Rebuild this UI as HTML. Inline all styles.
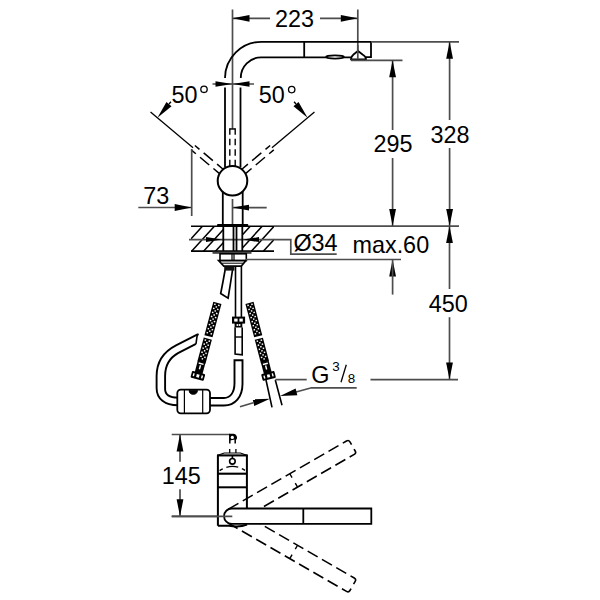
<!DOCTYPE html>
<html><head><meta charset="utf-8"><style>
html,body{margin:0;padding:0;background:#fff;}
svg{display:block;}
text{font-family:"Liberation Sans", sans-serif;fill:#000;stroke:none;}
</style></head><body>
<svg width="600" height="600" viewBox="0 0 600 600" fill="none" stroke="#000">
<rect width="600" height="600" fill="#fff" stroke="none"/>
<line x1="232.5" y1="9.5" x2="232.5" y2="129" stroke-width="1.7" stroke="#4d4d4d"/>
<line x1="357.8" y1="9.5" x2="357.8" y2="59" stroke-width="1.7" stroke="#4d4d4d"/>
<line x1="232.5" y1="18.3" x2="270" y2="18.3" stroke-width="1.7" stroke="#4d4d4d"/>
<polygon points="232.5,18.3 249.5,14.9 249.5,21.7" fill="#000" stroke="none"/>
<line x1="320" y1="18.3" x2="357.8" y2="18.3" stroke-width="1.7" stroke="#4d4d4d"/>
<polygon points="357.8,18.3 340.8,21.7 340.8,14.9" fill="#000" stroke="none"/>
<text x="294.5" y="26.5" font-size="23.4" text-anchor="middle">223</text>
<path d="M225,78 A36.5,36.5 0 0 1 261.5,41.8 L371,41.8 L371,57.2 L366,57.2" stroke-width="1.8"/>
<path d="M240.8,78 A20.5,20.5 0 0 1 261.3,57.3 L351,57.3" stroke-width="1.8"/>
<line x1="304.2" y1="41.8" x2="304.2" y2="57.3" stroke-width="1.8"/>
<ellipse cx="335" cy="57" rx="9" ry="1.6" stroke-width="1.6" fill="#fff"/>
<path d="M351,59.3 Q351,56.5 353.5,54.5 L358,51 L362.5,54.5 Q366,56.5 366,59.3 Z" stroke-width="1.8" fill="#fff"/>
<line x1="351" y1="60.3" x2="402.5" y2="60.3" stroke-width="1.7" stroke="#4d4d4d"/>
<line x1="357.8" y1="45" x2="357.8" y2="59" stroke-width="1.7" stroke="#4d4d4d"/>
<line x1="371" y1="41.8" x2="459" y2="41.8" stroke-width="1.7" stroke="#4d4d4d"/>
<line x1="225" y1="87.5" x2="225" y2="167" stroke-width="1.8"/>
<line x1="240.5" y1="87.5" x2="240.5" y2="167" stroke-width="1.8"/>
<line x1="212.5" y1="84" x2="254" y2="84" stroke-width="1.7" stroke="#4d4d4d"/>
<polygon points="232.5,84 215.5,86.8 215.5,81.2" fill="#000" stroke="none"/>
<polygon points="232.5,84 249.5,81.2 249.5,86.8" fill="#000" stroke="none"/>
<path d="M229.8,129 L235.2,129" stroke-width="1.4"/>
<path d="M229.8,128.3 L229.8,166 M235.2,128.3 L235.2,166" stroke-width="1.4" stroke-dasharray="6.5,4"/>
<line x1="193.05" y1="147.7" x2="150.53" y2="112.02" stroke-width="1.3"/>
<line x1="191.22" y1="149.88" x2="219.18" y2="173.34" stroke-width="1.5" stroke-dasharray="6,5.5,12,5.5,12"/>
<line x1="194.88" y1="145.51" x2="222.84" y2="168.97" stroke-width="1.5" stroke-dasharray="6,5.5,12,5.5,12"/>
<polygon points="157.43,117.81 166.47,101.9 171.53,106.14" fill="#000" stroke="none"/>
<line x1="169" y1="104.02" x2="170.93" y2="101.72" stroke-width="1.3"/>
<line x1="271.95" y1="147.7" x2="314.47" y2="112.02" stroke-width="1.3"/>
<line x1="270.12" y1="145.51" x2="242.16" y2="168.97" stroke-width="1.5" stroke-dasharray="6,5.5,12,5.5,12"/>
<line x1="273.78" y1="149.88" x2="245.82" y2="173.34" stroke-width="1.5" stroke-dasharray="6,5.5,12,5.5,12"/>
<polygon points="307.57,117.81 293.47,106.14 298.53,101.9" fill="#000" stroke="none"/>
<line x1="296" y1="104.02" x2="294.07" y2="101.72" stroke-width="1.3"/>
<circle cx="232.5" cy="180.8" r="14.8" stroke-width="2" fill="#fff"/>
<text x="184.4" y="102.8" font-size="23.4" text-anchor="middle">50</text>
<circle cx="204" cy="89.3" r="3.2" stroke-width="1.3"/>
<text x="271.85" y="102.8" font-size="23.4" text-anchor="middle">50</text>
<circle cx="291.7" cy="89.6" r="3.2" stroke-width="1.3"/>
<line x1="191.7" y1="149" x2="191.7" y2="216" stroke-width="1.7" stroke="#4d4d4d"/>
<line x1="138.3" y1="207.5" x2="191.7" y2="207.5" stroke-width="1.7" stroke="#4d4d4d"/>
<polygon points="191.7,207.5 174.7,210.9 174.7,204.1" fill="#000" stroke="none"/>
<line x1="266.7" y1="207.6" x2="232.5" y2="207.6" stroke-width="1.7" stroke="#4d4d4d"/>
<polygon points="232.5,207.6 249,204.7 249,210.5" fill="#000" stroke="none"/>
<text x="156.15" y="204.2" font-size="23.4" text-anchor="middle">73</text>
<line x1="222.8" y1="192" x2="222.8" y2="226" stroke-width="1.8"/>
<line x1="242.7" y1="192" x2="242.7" y2="226" stroke-width="1.8"/>
<line x1="232.5" y1="199" x2="232.5" y2="226" stroke-width="1.7" stroke="#4d4d4d"/>
<clipPath id="hc"><rect x="191" y="226" width="32.3" height="25.2"/><rect x="242.8" y="226" width="31.2" height="25.2"/></clipPath>
<path d="M143.8,251.3 L166.6,226.2 M155.75,251.3 L178.55,226.2 M167.7,251.3 L190.5,226.2 M179.65,251.3 L202.45,226.2 M191.6,251.3 L214.4,226.2 M203.55,251.3 L226.35,226.2 M215.5,251.3 L238.3,226.2 M227.45,251.3 L250.25,226.2 M239.4,251.3 L262.2,226.2 M251.35,251.3 L274.15,226.2 M263.3,251.3 L286.1,226.2 M275.25,251.3 L298.05,226.2 M287.2,251.3 L310,226.2" stroke-width="1.5" clip-path="url(#hc)"/>
<line x1="191" y1="226.2" x2="274" y2="226.2" stroke-width="1.6"/>
<line x1="274" y1="226.2" x2="459" y2="226.2" stroke-width="1.7" stroke="#4d4d4d"/>
<line x1="191" y1="251.2" x2="274" y2="251.2" stroke-width="1.8"/>
<path d="M189,239.6 L290.8,239.6 L290.8,254.2 L336.7,254.2" stroke-width="1.7" stroke="#4d4d4d"/>
<line x1="223.3" y1="226" x2="223.3" y2="251.2" stroke-width="1.8"/>
<line x1="242.3" y1="226" x2="242.3" y2="251.2" stroke-width="1.8"/>
<line x1="233.5" y1="226" x2="233.5" y2="251.2" stroke-width="1.8"/>
<line x1="236.5" y1="226" x2="236.5" y2="251.2" stroke-width="1.8"/>
<rect x="217" y="223.9" width="31.3" height="2.3" rx="1" fill="#000" stroke="none"/>
<polygon points="222,239.6 206,242.1 206,237.1" fill="#000" stroke="none"/>
<polygon points="243,239.6 259,237.1 259,242.1" fill="#000" stroke="none"/>
<text x="315.5" y="251.3" font-size="23.4" text-anchor="middle">Ø34</text>
<text x="390.8" y="253" font-size="23.4" text-anchor="middle">max.60</text>
<rect x="212.5" y="251.6" width="39" height="2.2" fill="#444" stroke="none"/>
<rect x="220" y="253.8" width="26.3" height="6.8" stroke-width="1.6" fill="#fff"/>
<line x1="232" y1="253.8" x2="232" y2="260.6" stroke-width="1.2"/>
<line x1="234" y1="253.8" x2="234" y2="260.6" stroke-width="1.2"/>
<path d="M218.6,260.6 L246,260.6 L241.3,266.1 L223.8,266.1 Z" stroke-width="1.6" fill="#fff"/>
<line x1="221.5" y1="263.2" x2="243.5" y2="263.2" stroke-width="1.0"/>
<line x1="246" y1="259.5" x2="401" y2="259.5" stroke-width="1.7" stroke="#4d4d4d"/>
<path d="M225.1,270 Q222.8,283 220.7,293.5 L228.1,298.2 Q230.6,283 232.5,270" stroke-width="1.7" fill="#fff"/><rect x="224.2" y="266.4" width="10.2" height="4.2" fill="#111" stroke="none"/>
<line x1="235.5" y1="266" x2="235.5" y2="317.4" stroke-width="1.6"/>
<line x1="241.4" y1="266" x2="241.4" y2="317.4" stroke-width="1.6"/>
<rect x="232.8" y="317.4" width="11.5" height="5.4" stroke-width="1.6" fill="#000"/><rect x="234.2" y="318.6" width="3.4" height="3" fill="#fff" stroke="none"/><rect x="239.4" y="318.6" width="3.4" height="3" fill="#fff" stroke="none"/>
<rect x="235.3" y="322.8" width="6.3" height="4.6" stroke-width="1.4" fill="#000"/><rect x="236.6" y="324.1" width="1.6" height="1.8" fill="#fff" stroke="none"/><rect x="238.8" y="324.1" width="1.6" height="1.8" fill="#fff" stroke="none"/>
<path d="M235.1,327.4 L235.1,354 L242.2,354.9 L242.2,327.4" stroke-width="1.6" fill="#fff"/>
<line x1="235.1" y1="337" x2="242.2" y2="337" stroke-width="1.4"/>
<g transform="translate(217.4,302.9) rotate(15)" stroke="none"><rect x="-4.2" y="0" width="8.4" height="34.5" fill="#000"/><rect x="-2.8" y="1.3" width="1.5" height="1.45" fill="#fff"/><rect x="1.3" y="1.3" width="1.5" height="1.45" fill="#fff"/><rect x="-0.75" y="3.4" width="1.5" height="1.45" fill="#fff"/><rect x="-2.8" y="5.5" width="1.5" height="1.45" fill="#fff"/><rect x="1.3" y="5.5" width="1.5" height="1.45" fill="#fff"/><rect x="-0.75" y="7.6" width="1.5" height="1.45" fill="#fff"/><rect x="-2.8" y="9.7" width="1.5" height="1.45" fill="#fff"/><rect x="1.3" y="9.7" width="1.5" height="1.45" fill="#fff"/><rect x="-0.75" y="11.8" width="1.5" height="1.45" fill="#fff"/><rect x="-2.8" y="13.9" width="1.5" height="1.45" fill="#fff"/><rect x="1.3" y="13.9" width="1.5" height="1.45" fill="#fff"/><rect x="-0.75" y="16" width="1.5" height="1.45" fill="#fff"/><rect x="-2.8" y="18.1" width="1.5" height="1.45" fill="#fff"/><rect x="1.3" y="18.1" width="1.5" height="1.45" fill="#fff"/><rect x="-0.75" y="20.2" width="1.5" height="1.45" fill="#fff"/><rect x="-2.8" y="22.3" width="1.5" height="1.45" fill="#fff"/><rect x="1.3" y="22.3" width="1.5" height="1.45" fill="#fff"/><rect x="-0.75" y="24.4" width="1.5" height="1.45" fill="#fff"/><rect x="-2.8" y="26.5" width="1.5" height="1.45" fill="#fff"/><rect x="1.3" y="26.5" width="1.5" height="1.45" fill="#fff"/><rect x="-0.75" y="28.6" width="1.5" height="1.45" fill="#fff"/><rect x="-2.8" y="30.7" width="1.5" height="1.45" fill="#fff"/><rect x="1.3" y="30.7" width="1.5" height="1.45" fill="#fff"/><rect x="-4.2" y="37" width="8.4" height="24.5" fill="#000"/><rect x="-2.8" y="38.3" width="1.5" height="1.45" fill="#fff"/><rect x="1.3" y="38.3" width="1.5" height="1.45" fill="#fff"/><rect x="-0.75" y="40.4" width="1.5" height="1.45" fill="#fff"/><rect x="-2.8" y="42.5" width="1.5" height="1.45" fill="#fff"/><rect x="1.3" y="42.5" width="1.5" height="1.45" fill="#fff"/><rect x="-0.75" y="44.6" width="1.5" height="1.45" fill="#fff"/><rect x="-2.8" y="46.7" width="1.5" height="1.45" fill="#fff"/><rect x="1.3" y="46.7" width="1.5" height="1.45" fill="#fff"/><rect x="-0.75" y="48.8" width="1.5" height="1.45" fill="#fff"/><rect x="-2.8" y="50.9" width="1.5" height="1.45" fill="#fff"/><rect x="1.3" y="50.9" width="1.5" height="1.45" fill="#fff"/><rect x="-0.75" y="53" width="1.5" height="1.45" fill="#fff"/><rect x="-2.8" y="55.1" width="1.5" height="1.45" fill="#fff"/><rect x="1.3" y="55.1" width="1.5" height="1.45" fill="#fff"/><rect x="-0.75" y="57.2" width="1.5" height="1.45" fill="#fff"/><rect x="-4" y="61" width="8" height="12" fill="#000"/><rect x="-2.5" y="62.2" width="5" height="1.5" fill="#fff"/><rect x="-0.9" y="64.6" width="1.4" height="4.2" fill="#fff"/><rect x="-6.8" y="72" width="13.6" height="7" rx="1" fill="#000"/><rect x="-1.4" y="74" width="2.8" height="3" fill="#fff"/><rect x="-5" y="74" width="1.4" height="3" fill="#fff"/><rect x="3.6" y="74" width="1.4" height="3" fill="#fff"/></g>
<g transform="translate(249.5,302.9) rotate(-14.6)" stroke="none"><rect x="-4.2" y="0" width="8.4" height="34.5" fill="#000"/><rect x="-2.8" y="1.3" width="1.5" height="1.45" fill="#fff"/><rect x="1.3" y="1.3" width="1.5" height="1.45" fill="#fff"/><rect x="-0.75" y="3.4" width="1.5" height="1.45" fill="#fff"/><rect x="-2.8" y="5.5" width="1.5" height="1.45" fill="#fff"/><rect x="1.3" y="5.5" width="1.5" height="1.45" fill="#fff"/><rect x="-0.75" y="7.6" width="1.5" height="1.45" fill="#fff"/><rect x="-2.8" y="9.7" width="1.5" height="1.45" fill="#fff"/><rect x="1.3" y="9.7" width="1.5" height="1.45" fill="#fff"/><rect x="-0.75" y="11.8" width="1.5" height="1.45" fill="#fff"/><rect x="-2.8" y="13.9" width="1.5" height="1.45" fill="#fff"/><rect x="1.3" y="13.9" width="1.5" height="1.45" fill="#fff"/><rect x="-0.75" y="16" width="1.5" height="1.45" fill="#fff"/><rect x="-2.8" y="18.1" width="1.5" height="1.45" fill="#fff"/><rect x="1.3" y="18.1" width="1.5" height="1.45" fill="#fff"/><rect x="-0.75" y="20.2" width="1.5" height="1.45" fill="#fff"/><rect x="-2.8" y="22.3" width="1.5" height="1.45" fill="#fff"/><rect x="1.3" y="22.3" width="1.5" height="1.45" fill="#fff"/><rect x="-0.75" y="24.4" width="1.5" height="1.45" fill="#fff"/><rect x="-2.8" y="26.5" width="1.5" height="1.45" fill="#fff"/><rect x="1.3" y="26.5" width="1.5" height="1.45" fill="#fff"/><rect x="-0.75" y="28.6" width="1.5" height="1.45" fill="#fff"/><rect x="-2.8" y="30.7" width="1.5" height="1.45" fill="#fff"/><rect x="1.3" y="30.7" width="1.5" height="1.45" fill="#fff"/><rect x="-4.2" y="37" width="8.4" height="24.5" fill="#000"/><rect x="-2.8" y="38.3" width="1.5" height="1.45" fill="#fff"/><rect x="1.3" y="38.3" width="1.5" height="1.45" fill="#fff"/><rect x="-0.75" y="40.4" width="1.5" height="1.45" fill="#fff"/><rect x="-2.8" y="42.5" width="1.5" height="1.45" fill="#fff"/><rect x="1.3" y="42.5" width="1.5" height="1.45" fill="#fff"/><rect x="-0.75" y="44.6" width="1.5" height="1.45" fill="#fff"/><rect x="-2.8" y="46.7" width="1.5" height="1.45" fill="#fff"/><rect x="1.3" y="46.7" width="1.5" height="1.45" fill="#fff"/><rect x="-0.75" y="48.8" width="1.5" height="1.45" fill="#fff"/><rect x="-2.8" y="50.9" width="1.5" height="1.45" fill="#fff"/><rect x="1.3" y="50.9" width="1.5" height="1.45" fill="#fff"/><rect x="-0.75" y="53" width="1.5" height="1.45" fill="#fff"/><rect x="-2.8" y="55.1" width="1.5" height="1.45" fill="#fff"/><rect x="1.3" y="55.1" width="1.5" height="1.45" fill="#fff"/><rect x="-0.75" y="57.2" width="1.5" height="1.45" fill="#fff"/><rect x="-4" y="61" width="8" height="12" fill="#000"/><rect x="-2.5" y="62.2" width="5" height="1.5" fill="#fff"/><rect x="-0.9" y="64.6" width="1.4" height="4.2" fill="#fff"/><rect x="-6.8" y="72" width="13.6" height="7" rx="1" fill="#000"/><rect x="-1.4" y="74" width="2.8" height="3" fill="#fff"/><rect x="-5" y="74" width="1.4" height="3" fill="#fff"/><rect x="3.6" y="74" width="1.4" height="3" fill="#fff"/></g>
<path d="M266,380 L272,407.3 M275.3,380 L282,405.3" stroke-width="1.6"/>
<path d="M197.6,334.3 L176,345.3 C163,352 156.6,362 156.6,376 L156.6,388 C156.6,399 165,405.3 178,405.3" stroke-width="1.9"/>
<path d="M196,343.8 L178,353.2 C169.5,358 165.1,366 165.1,376 L165.1,389 C165.1,395 169,397.6 178,397.6" stroke-width="1.9"/>
<path d="M198.3,333.6 L197,336.5 L196,343.8" stroke-width="1.6"/>
<path d="M209,398 L224,398 C230,398 234.5,393 234.5,383 L234.5,360.2 L242.5,360.2 L242.5,384 C242.5,397 235,405.5 224,405.5 L209,405.5" stroke-width="1.9"/>
<rect x="177.3" y="389.6" width="32.7" height="23.7" rx="3.5" stroke-width="1.8" fill="#fff"/>
<line x1="184.4" y1="389.6" x2="184.4" y2="413.3" stroke-width="1.2"/>
<line x1="202.7" y1="389.6" x2="202.7" y2="413.3" stroke-width="1.2"/>
<path d="M189.2,390.2 A4.1,4.1 0 0 0 197.4,390.2 Z" fill="#000" stroke="#000" stroke-width="1"/>
<line x1="275.3" y1="379.6" x2="306.7" y2="379.6" stroke-width="1.7" stroke="#4d4d4d"/>
<line x1="370.5" y1="379.6" x2="458" y2="379.6" stroke-width="1.7" stroke="#4d4d4d"/>
<text x="320.25" y="382.6" font-size="23.4" text-anchor="middle">G</text>
<text x="336" y="370.6" font-size="13.4" text-anchor="middle">3</text>
<line x1="341" y1="382.3" x2="346.3" y2="364.8" stroke-width="1.3"/>
<text x="351.5" y="382.6" font-size="13.4" text-anchor="middle">8</text>
<path d="M356.7,387.8 L311.5,387.8 L296,392" stroke-width="1.7" stroke="#4d4d4d"/>
<polygon points="280,396 295.64,388.48 297.34,395.27" fill="#000" stroke="none"/>
<line x1="240" y1="406.7" x2="253.3" y2="402.7" stroke-width="1.7" stroke="#4d4d4d"/>
<polygon points="270,398.7 254.28,406.06 252.65,399.26" fill="#000" stroke="none"/>
<line x1="392.6" y1="60.3" x2="392.6" y2="130" stroke-width="1.7" stroke="#4d4d4d"/>
<line x1="392.6" y1="158" x2="392.6" y2="226" stroke-width="1.7" stroke="#4d4d4d"/>
<polygon points="392.6,60.3 396,77.3 389.2,77.3" fill="#000" stroke="none"/>
<polygon points="392.6,226 389.2,209 396,209" fill="#000" stroke="none"/>
<text x="393.05" y="151.6" font-size="23.4" text-anchor="middle">295</text>
<line x1="449.6" y1="41.8" x2="449.6" y2="120" stroke-width="1.7" stroke="#4d4d4d"/>
<line x1="449.6" y1="148" x2="449.6" y2="226" stroke-width="1.7" stroke="#4d4d4d"/>
<polygon points="449.6,41.8 453,58.8 446.2,58.8" fill="#000" stroke="none"/>
<polygon points="449.6,226 446.2,209 453,209" fill="#000" stroke="none"/>
<text x="450" y="142.6" font-size="23.4" text-anchor="middle">328</text>
<polygon points="392.6,259.5 396,276.5 389.2,276.5" fill="#000" stroke="none"/>
<line x1="392.6" y1="259.5" x2="392.6" y2="294.6" stroke-width="1.7" stroke="#4d4d4d"/>
<line x1="449.5" y1="226" x2="449.5" y2="289" stroke-width="1.7" stroke="#4d4d4d"/>
<line x1="449.5" y1="317.2" x2="449.5" y2="379.6" stroke-width="1.7" stroke="#4d4d4d"/>
<polygon points="449.5,226 452.9,243 446.1,243" fill="#000" stroke="none"/>
<polygon points="449.5,379.6 446.1,362.6 452.9,362.6" fill="#000" stroke="none"/>
<text x="448.15" y="311.5" font-size="23.4" text-anchor="middle">450</text>
<line x1="171.7" y1="434.5" x2="229.8" y2="434.5" stroke-width="1.7" stroke="#4d4d4d"/>
<line x1="171.7" y1="516.3" x2="232.3" y2="516.3" stroke-width="1.7" stroke="#4d4d4d"/>
<line x1="180" y1="434.5" x2="180" y2="461.7" stroke-width="1.7" stroke="#4d4d4d"/>
<line x1="180" y1="489.2" x2="180" y2="516.3" stroke-width="1.7" stroke="#4d4d4d"/>
<polygon points="180,434.5 183.4,451.5 176.6,451.5" fill="#000" stroke="none"/>
<polygon points="180,516.3 176.6,499.3 183.4,499.3" fill="#000" stroke="none"/>
<text x="181.25" y="483.9" font-size="23.4" text-anchor="middle">145</text>
<rect x="217.9" y="455.1" width="29" height="70.7" fill="#fff" stroke="none"/>
<path d="M217.9,525.8 L217.9,455.3 M246.9,455.3 L246.9,508.3" stroke-width="2"/>
<path d="M217.9,455.3 L224.2,453 L240.4,453 L246.9,455.3" stroke-width="1.2"/>
<line x1="217" y1="455.4" x2="247.8" y2="455.4" stroke-width="2.1"/>
<line x1="217.9" y1="473.7" x2="246.9" y2="473.7" stroke-width="2.1"/>
<line x1="217.9" y1="487.3" x2="246.9" y2="487.3" stroke-width="2.0"/>
<circle cx="232.4" cy="461.3" r="2.8" stroke-width="1.6"/>
<line x1="232.4" y1="455.4" x2="232.4" y2="458.5" stroke-width="1.6"/>
<path d="M219.6,470.6 Q232.5,462.2 245.3,470.6" stroke-width="1.3" stroke-dasharray="3.5,4,12,4,3.5"/>
<path d="M229.8,443.5 L229.8,434.6 L232.6,434.6 A2.9,2.9 0 0 1 235.2,439.6 L235.2,443.5" stroke-width="1.5"/>
<path d="M229.8,434.6 L232.6,434.6 A2.9,2.9 0 0 1 235.2,439.6 L229.8,440.4 Z" fill="#000" stroke="none"/>
<circle cx="232.3" cy="437.4" r="1.6" fill="#fff" stroke="none"/>
<path d="M229.7,449 L229.7,453 M235.9,449 L235.9,453" stroke-width="1.3"/>
<g transform="translate(231.75,516.2) rotate(-30)" stroke-width="1.6" stroke-dasharray="11.5,5" stroke-dashoffset="15.8"><path d="M0,-7.75 L137,-7.75 Q139.5,-7.75 139.5,-5.25 L139.5,5.25 Q139.5,7.75 137,7.75 L0,7.75"/></g>
<g transform="translate(231.75,516.2) rotate(-30)" stroke-width="1.4"><path d="M71.5,-7.75 L71.5,-3.2 M71.5,7.75 L71.5,3.2"/></g>
<g transform="translate(231.75,516.2) rotate(30)" stroke-width="1.6" stroke-dasharray="11.5,5" stroke-dashoffset="15.8"><path d="M0,-7.75 L137,-7.75 Q139.5,-7.75 139.5,-5.25 L139.5,5.25 Q139.5,7.75 137,7.75 L0,7.75"/></g>
<g transform="translate(231.75,516.2) rotate(30)" stroke-width="1.4"><path d="M71.5,-7.75 L71.5,-3.2 M71.5,7.75 L71.5,3.2"/></g>
<path d="M231.75,508.5 L371.3,508.5 L371.3,523.9 L231.75,523.9 A7.7,7.7 0 0 1 231.75,508.5 Z" stroke-width="1.8" fill="#fff"/>
<line x1="303.3" y1="508.5" x2="303.3" y2="523.9" stroke-width="1.8"/>
<path d="M217.9,525.8 L229,525.8 Q240,527.5 247,524.5" stroke-width="2"/>
<line x1="171.7" y1="516.3" x2="232.3" y2="516.3" stroke-width="1.7" stroke="#4d4d4d"/>
</svg></body></html>
